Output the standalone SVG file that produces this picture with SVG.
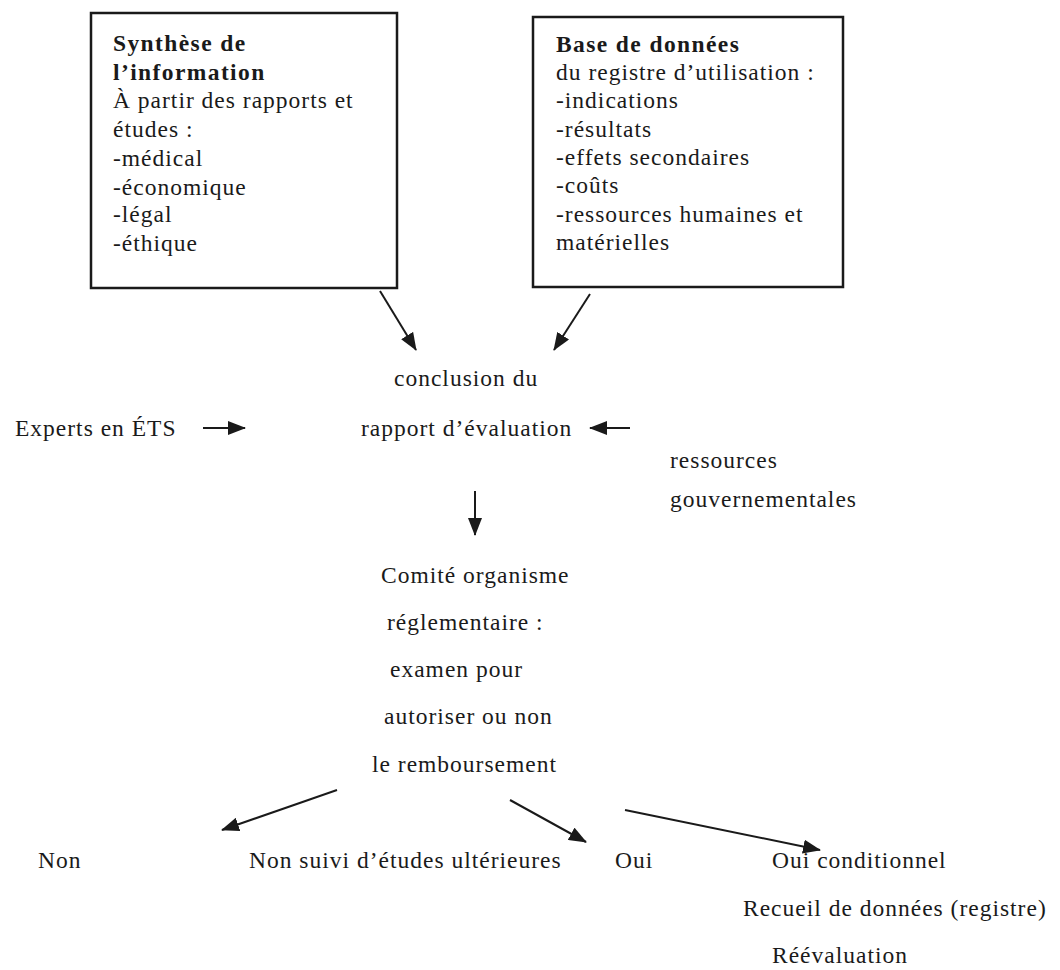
<svg xmlns="http://www.w3.org/2000/svg" width="1060" height="970" viewBox="0 0 1060 970">
<style>
text{font-family:"Liberation Serif","Times New Roman",serif;font-size:23.5px;fill:#1a1a1a;letter-spacing:1px}
.b{font-weight:bold;letter-spacing:1.4px}
.box{fill:#fff;stroke:#1a1a1a;stroke-width:2.5}
.c{stroke:#1a1a1a;stroke-width:2;fill:none}
</style>
<defs>
<marker id="ah" viewBox="0 0 18 14" refX="17" refY="7" markerWidth="18" markerHeight="14" markerUnits="userSpaceOnUse" orient="auto">
<path d="M0,0 L18,7 L0,14 Z" fill="#1a1a1a"/>
</marker>
</defs>
<rect width="1060" height="970" fill="#fff"/>
<g id="synthese">
<rect class="box" x="91" y="13" width="306" height="275"/>
<text class="b" x="113" y="51">Synthèse de</text>
<text class="b" x="113" y="80">l’information</text>
<text x="113" y="108">À partir des rapports et</text>
<text x="113" y="137">études :</text>
<text x="113" y="166">-médical</text>
<text x="113" y="195">-économique</text>
<text x="113" y="222">-légal</text>
<text x="113" y="251">-éthique</text>
</g>
<g id="base">
<rect class="box" x="533" y="17" width="310" height="270"/>
<text class="b" x="556" y="52">Base de données</text>
<text x="556" y="80">du registre d’utilisation :</text>
<text x="556" y="108">-indications</text>
<text x="556" y="137">-résultats</text>
<text x="556" y="165">-effets secondaires</text>
<text x="556" y="193">-coûts</text>
<text x="556" y="222">-ressources humaines et</text>
<text x="556" y="250">matérielles</text>
</g>
<g id="conclusion">
<text x="394" y="386">conclusion du</text>
<text x="361" y="436">rapport d’évaluation</text>
</g>
<g id="experts"><text x="15" y="436">Experts en ÉTS</text></g>
<g id="ressources">
<text x="670" y="468">ressources</text>
<text x="670" y="507">gouvernementales</text>
</g>
<g id="comite">
<text x="381" y="583">Comité organisme</text>
<text x="387" y="630">réglementaire :</text>
<text x="390" y="677">examen pour</text>
<text x="384" y="724">autoriser ou non</text>
<text x="372" y="772">le remboursement</text>
</g>
<g id="non"><text x="38" y="868">Non</text></g>
<g id="non-suivi"><text x="249" y="868">Non suivi d’études ultérieures</text></g>
<g id="oui"><text x="615" y="868">Oui</text></g>
<g id="oui-cond">
<text x="772" y="868">Oui conditionnel</text>
<text x="743" y="916">Recueil de données (registre)</text>
<text x="772" y="963">Réévaluation</text>
</g>
<g id="connectors">
<line class="c" x1="380" y1="291" x2="416" y2="350" marker-end="url(#ah)"/>
<line class="c" x1="590" y1="294" x2="554" y2="350" marker-end="url(#ah)"/>
<line class="c" x1="203" y1="428" x2="245" y2="428" marker-end="url(#ah)"/>
<line class="c" x1="630" y1="428" x2="590" y2="428" marker-end="url(#ah)"/>
<line class="c" x1="475" y1="491" x2="475" y2="535" marker-end="url(#ah)"/>
<line class="c" x1="337" y1="790" x2="222" y2="830" marker-end="url(#ah)"/>
<line class="c" x1="510" y1="800" x2="586" y2="842" marker-end="url(#ah)"/>
<line class="c" x1="625" y1="810" x2="820" y2="850" marker-end="url(#ah)"/>
</g>
</svg>
